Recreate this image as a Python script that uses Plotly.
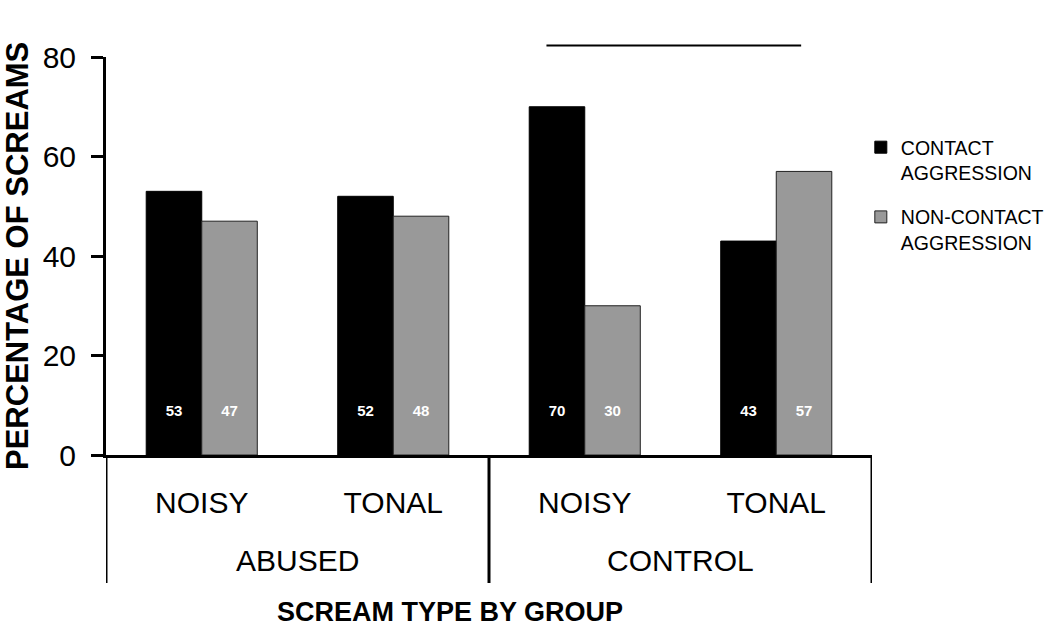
import plotly.graph_objects as go

# ---- data ----
scream_types = ["NOISY", "TONAL", "NOISY", "TONAL"]
groups = ["ABUSED", "ABUSED", "CONTROL", "CONTROL"]
contact = [53, 52, 70, 43]
non_contact = [47, 48, 30, 57]
series_names = ["CONTACT<br>AGGRESSION", "NON-CONTACT<br>AGGRESSION"]
y_ticks = [0, 20, 40, 60, 80]

# significance bar (category-index units / value units)
sig_x = [1.80, 3.13]
sig_y = 82.3
label_y = 8.6

FONT = "Liberation Sans, Arial, sans-serif"
BLACK = "#000000"
GRAY = "#999999"
bargap = 0.42

x = list(range(len(scream_types)))
bar_w = (1 - bargap) / 2

fig = go.Figure()
fig.add_trace(go.Bar(x=x, y=contact, name=series_names[0], legendgroup="a",
                     marker=dict(color=BLACK, line=dict(color="#000000", width=1))))
fig.add_trace(go.Bar(x=x, y=non_contact, name=series_names[1], legendgroup="b",
                     marker=dict(color=GRAY, line=dict(color="#222222", width=1))))

# value labels inside bars
fig.add_trace(go.Scatter(x=[v - bar_w / 2 for v in x], y=[label_y] * len(x), mode="text",
                         text=["<b>%d</b>" % v for v in contact], showlegend=False, hoverinfo="skip",
                         textfont=dict(family=FONT, size=15, color="white")))
fig.add_trace(go.Scatter(x=[v + bar_w / 2 for v in x], y=[label_y] * len(x), mode="text",
                         text=["<b>%d</b>" % v for v in non_contact], showlegend=False, hoverinfo="skip",
                         textfont=dict(family=FONT, size=15, color="white")))

plot_h = 398
plot_w = 766
def py(p):
    return (455 - p) / plot_h
def px(p):
    return (p - 106) / plot_w

shapes = []
# group dividers
uniq_groups = []
for g in groups:
    if g not in uniq_groups:
        uniq_groups.append(g)
bounds = [-0.5]
for g in uniq_groups:
    idx = [i for i, gg in enumerate(groups) if gg == g]
    bounds.append(max(idx) + 0.5)
for b in bounds:
    shapes.append(dict(type="line", xref="x", yref="paper", x0=b, x1=b, y0=0, y1=py(583),
                       line=dict(color="black", width=3)))
# significance line
shapes.append(dict(type="line", xref="x", yref="paper", x0=sig_x[0], x1=sig_x[1],
                   y0=sig_y / y_ticks[-1], y1=sig_y / y_ticks[-1],
                   line=dict(color="black", width=2)))

annotations = []
for g in uniq_groups:
    idx = [i for i, gg in enumerate(groups) if gg == g]
    annotations.append(dict(x=sum(idx) / len(idx), y=py(560), xref="x", yref="paper",
                            text=g, showarrow=False, font=dict(family=FONT, size=30, color="black"),
                            xanchor="center", yanchor="middle"))
annotations.append(dict(x=1.296, y=py(612), xref="x", yref="paper",
                        text="<b>SCREAM TYPE BY GROUP</b>", showarrow=False,
                        font=dict(family=FONT, size=27, color="black"),
                        xanchor="center", yanchor="middle"))
annotations.append(dict(x=px(17), y=py(256), xref="paper", yref="paper",
                        text="<b>PERCENTAGE OF SCREAMS</b>", showarrow=False, textangle=-90,
                        font=dict(family=FONT, size=31, color="black"),
                        xanchor="center", yanchor="middle"))

fig.update_layout(
    width=1050, height=627,
    margin=dict(l=106, r=178, t=57, b=172, autoexpand=False),
    paper_bgcolor="white", plot_bgcolor="white",
    barmode="group", bargap=bargap, bargroupgap=0,
    font=dict(family=FONT, color="black"),
    showlegend=True,
    legend=dict(x=0.9854, xanchor="left", y=py(128), yanchor="top",
                font=dict(family=FONT, size=19.5, color="black"),
                valign="top", tracegroupgap=16, bgcolor="rgba(0,0,0,0)"),
    shapes=shapes, annotations=annotations,
    xaxis=dict(range=[-0.5, 3.5], tickvals=x, ticktext=scream_types, showgrid=False,
               zeroline=False, showline=True, linecolor="black", linewidth=3,
               ticks="", tickfont=dict(family=FONT, size=30, color="black"),
               ticklabelstandoff=19),
    yaxis=dict(range=[0, 80], tickvals=y_ticks, showgrid=False, zeroline=False,
               showline=True, linecolor="black", linewidth=3, ticks="outside",
               ticklen=12, tickwidth=3, tickcolor="black",
               tickfont=dict(family=FONT, size=30, color="black"),
               ticklabelstandoff=9),
)

fig.write_html("out.html", config={"displayModeBar": False},
               post_script="document.body.style.margin='0';")
